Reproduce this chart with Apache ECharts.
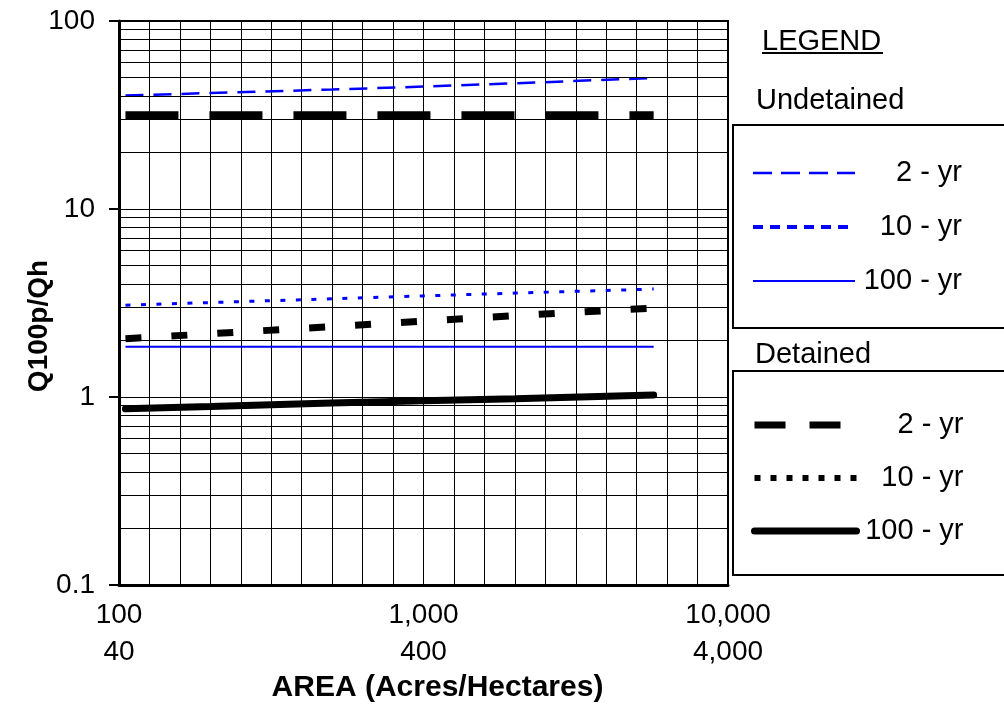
<!DOCTYPE html>
<html>
<head>
<meta charset="utf-8">
<script src="https://cdn.jsdelivr.net/npm/echarts@6/dist/echarts.min.js"></script>
<style>
html,body{margin:0;padding:0;background:#fff;}
#chart{width:1004px;height:704px;}
</style>
</head>
<body>
<div id="chart"></div>
<script>
// ---- data ----
const areas = [105, 200, 500, 1000, 2000, 5700];          // acres
const undet2   = [40.1, 41.4, 43.2, 44.8, 46.6, 49.8];
const undet10  = [3.08, 3.18, 3.33, 3.45, 3.57, 3.75];
const undet100 = [1.85, 1.85, 1.85, 1.85, 1.85, 1.85];
const det2     = [31.5, 31.5, 31.5, 31.5, 31.5, 31.5];
const det10    = [2.04, 2.17, 2.37, 2.53, 2.71, 2.97];
const det100   = [0.865, 0.89, 0.93, 0.955, 0.98, 1.025];

const xTickAcres    = ['100', '1,000', '10,000'];
const xTickHectares = ['40', '400', '4,000'];
const yMinorGrid = [0.2,0.3,0.4,0.5,0.6,0.7,0.8,0.9, 2,3,4,5,6,7,8,9, 20,30,40,50,60,70,80,90];
const legendLabels = ['2 - yr', '10 - yr', '100 - yr'];
const groupNames = ['Undetained', 'Detained'];

const FONT = 'Liberation Sans, Arial, sans-serif';
const BLUE = '#0000ff';

function pts(vals){ return areas.map((a,i)=>[Math.log10(a), vals[i]]); }
const nm = (g,i) => groupNames[g] + ' ' + legendLabels[i];

const chart = echarts.init(document.getElementById('chart'), null, {renderer:'canvas'});

const legendText = {
  fontFamily: FONT, fontSize: 29, color: '#000', lineHeight: 34,
  rich: { a: { width: 102, align: 'right', fontFamily: FONT, fontSize: 29, color: '#000', lineHeight: 34 } }
};
const legendFmt = name => '{a|' + name.split(' ').slice(1).join(' ') + '}';
const hiddenSym = { color: 'rgba(0,0,0,0)', borderWidth: 0, opacity: 0 };

const option = {
  animation: false,
  backgroundColor: '#fff',
  grid: { left: 119, top: 21, width: 609, height: 564, containLabel: false, outerBoundsMode: 'none',
          show: true, borderColor: '#000', borderWidth: 2, backgroundColor: 'transparent' },
  xAxis: {
    type: 'value', min: 2, max: 4, interval: 0.1,
    axisLine: { show: true, onZero: false, lineStyle: { color: '#000', width: 3 } },
    axisTick: { show: false },
    splitLine: { show: true, lineStyle: { color: '#000', width: 1 } },
    axisLabel: {
      interval: 0, margin: 12, color: '#000', fontFamily: FONT, fontSize: 28, lineHeight: 37,
      showMinLabel: true, showMaxLabel: true,
      formatter: v => {
        const r = Math.round(v);
        if (Math.abs(v - r) > 1e-6) return '';
        const i = r - 2;
        return xTickAcres[i] + '\n' + xTickHectares[i];
      }
    },
    name: 'AREA (Acres/Hectares)', nameLocation: 'middle', nameGap: 88, nameMoveOverlap: false,
    nameTextStyle: { color: '#000', fontFamily: FONT, fontSize: 30, fontWeight: 'bold', padding: [0,0,0,28] }
  },
  yAxis: {
    type: 'log', logBase: 10, min: 0.1, max: 100,
    axisLine: { show: true, lineStyle: { color: '#000', width: 3 } },
    axisTick: { show: true, inside: false, length: 10, lineStyle: { color: '#000', width: 2 } },
    splitLine: { show: true, lineStyle: { color: '#000', width: 1 } },
    minorTick: { show: false }, minorSplitLine: { show: false },
    axisLabel: { margin: 24, color: '#000', fontFamily: FONT, fontSize: 28,
      formatter: v => String(+v.toPrecision(3)) },
    name: 'Q100p/Qh', nameLocation: 'middle', nameGap: 66, nameMoveOverlap: false,
    nameTextStyle: { color: '#000', fontFamily: FONT, fontSize: 28, fontWeight: 'bold', padding: [0,46,0,0] }
  },
  title: [
    { text: 'LEGEND', left: 762, top: 25, padding: 0,
      textStyle: { fontFamily: FONT, fontSize: 29, fontWeight: 'normal', color: '#000', lineHeight: 34 } },
    { text: groupNames[0], left: 756, top: 84, padding: 0,
      textStyle: { fontFamily: FONT, fontSize: 29, fontWeight: 'normal', color: '#000', lineHeight: 34 } },
    { text: groupNames[1], left: 755, top: 338, padding: 0,
      textStyle: { fontFamily: FONT, fontSize: 29, fontWeight: 'normal', color: '#000', lineHeight: 34 } }
  ],
  graphic: [
    { type: 'line', shape: { x1: 762, y1: 53, x2: 883, y2: 53 }, style: { stroke: '#000', lineWidth: 2 }, silent: true },
    { type: 'rect', shape: { x: 733, y: 125, width: 300, height: 203 }, style: { fill: 'none', stroke: '#000', lineWidth: 2 }, silent: true },
    { type: 'rect', shape: { x: 733, y: 371, width: 300, height: 204 }, style: { fill: 'none', stroke: '#000', lineWidth: 2 }, silent: true }
  ],
  legend: [
    { orient: 'vertical', left: 751, top: 156, padding: 0, itemWidth: 102, itemHeight: 14, itemGap: 20,
      selectedMode: false, textStyle: legendText, formatter: legendFmt,
      data: [
        { name: nm(0,0), itemStyle: hiddenSym, lineStyle: { color: BLUE, width: 2.5, type: [19, 9] } },
        { name: nm(0,1), itemStyle: hiddenSym, lineStyle: { color: BLUE, width: 4, type: [10, 7] } },
        { name: nm(0,2), itemStyle: hiddenSym, lineStyle: { color: BLUE, width: 2, type: 'solid' } }
      ] },
    { orient: 'vertical', left: 751, top: 408, padding: 0, itemWidth: 102, itemHeight: 14, itemGap: 19,
      selectedMode: false, textStyle: legendText, formatter: legendFmt,
      data: [
        { name: nm(1,0), itemStyle: hiddenSym, lineStyle: { color: '#000', width: 7, type: [31, 24] } },
        { name: nm(1,1), itemStyle: hiddenSym, lineStyle: { color: '#000', width: 6, type: [6, 10] } },
        { name: nm(1,2), itemStyle: hiddenSym, lineStyle: { color: '#000', width: 7, type: 'solid' } }
      ] }
  ],
  series: [
    { name: 'grid', type: 'line', data: [], z: 1, silent: true,
      markLine: { silent: true, symbol: ['none','none'], label: { show: false }, animation: false,
        lineStyle: { color: '#000', width: 1, type: 'solid' },
        emphasis: { disabled: true },
        data: yMinorGrid.map(v => ({ yAxis: v })) } },
    { name: nm(0,0), type: 'line', data: pts(undet2), symbol: 'none', color: BLUE, z: 3,
      lineStyle: { color: BLUE, width: 2.5, type: [18, 10] } },
    { name: nm(0,1), type: 'line', data: pts(undet10), symbol: 'none', color: BLUE, z: 3,
      lineStyle: { color: BLUE, width: 3, type: [5, 10.5] } },
    { name: nm(0,2), type: 'line', data: pts(undet100), symbol: 'none', color: BLUE, z: 3,
      lineStyle: { color: BLUE, width: 2, type: 'solid' } },
    { name: nm(1,0), type: 'line', data: pts(det2), symbol: 'none', color: '#000', z: 3,
      lineStyle: { color: '#000', width: 8, type: [53, 31] } },
    { name: nm(1,1), type: 'line', data: pts(det10), symbol: 'none', color: '#000', z: 3,
      lineStyle: { color: '#000', width: 7, type: [16, 30] } },
    { name: nm(1,2), type: 'line', data: pts(det100), symbol: 'none', color: '#000', z: 3,
      lineStyle: { color: '#000', width: 7, type: 'solid', cap: 'round' } }
  ]
};
chart.setOption(option);
</script>
</body>
</html>
